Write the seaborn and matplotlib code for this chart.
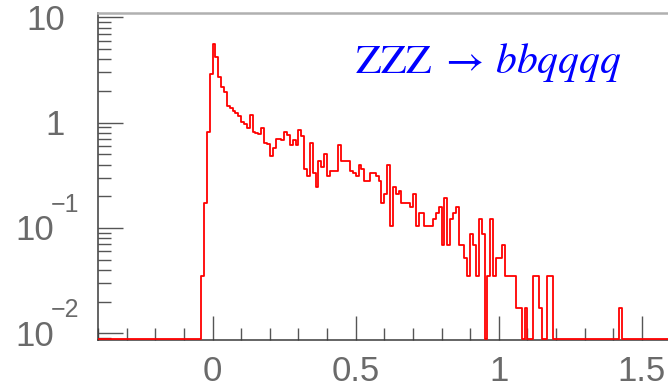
import numpy as np
import pandas as pd
import matplotlib
matplotlib.use("Agg")
import matplotlib.pyplot as plt
from matplotlib.ticker import (MultipleLocator, FixedLocator, LogLocator,
                               NullFormatter, FuncFormatter)
import seaborn as sns

# ---- binning -------------------------------------------------------------
bin_start = -0.40
bin_stop = 1.60
bin_width = 0.01
event_weight = 0.0174          # histogram entry per event

# events per 0.01 bin, starting with the bin at -0.04
first_filled_edge = -0.04
events = [
    2, 10, 47, 165, 318, 242, 157, 126, 113, 82,
    79, 74, 71, 67, 58, 56, 51, 68, 47, 46,
    45, 51, 37, 36, 28, 33, 40, 40, 39, 47,
    44, 35, 39, 35, 49, 43, 21, 18, 37, 19,
    14, 25, 22, 29, 18, 20, 20, 20, 35, 25,
    25, 25, 20, 19, 18, 23, 21, 16, 16, 19,
    19, 18, 16, 10, 12, 23, 6, 14, 12, 13,
    10, 10, 10, 9, 12, 6, 8, 8, 6, 6,
    6, 7, 8, 9, 4, 11, 4, 7, 8, 9,
    4, 4, 3, 2, 5, 4, 2, 7, 5, 0,
    2, 7, 2, 3, 3, 4, 2, 2, 2, 2,
    1, 1, 0, 1, 0, 0, 2, 2, 1, 0,
    0, 2, 2,
]
# isolated entries far in the tail
tail_x = [1.425]
tail_events = [1]

x_major_ticks = [0, 0.5, 1, 1.5]
y_major_ticks = [10, 1, 0.1, 0.01]
y_tick_base = ["10", "1", "10", "10"]
y_tick_exp = ["", "", "\u22121", "\u22122"]
title_text = r"$\mathrm{ZZZ}\;\rightarrow\,bbqqqq$"

# ---- histogram contents ----------------------------------------------------
edges = np.round(np.arange(bin_start, bin_stop + bin_width / 2, bin_width), 4)
centers = edges[:-1] + bin_width / 2
counts = np.zeros(len(centers))
i0 = int(round((first_filled_edge - bin_start) / bin_width))
counts[i0:i0 + len(events)] = events
for tx, tn in zip(tail_x, tail_events):
    counts[int((tx - bin_start) // bin_width)] += tn

y_lo, y_hi = 0.00863, 11.0
y_floor = y_lo * 1.022                           # empty bins drawn on the axis floor
heights = counts * event_weight
heights = np.where(heights > 0, heights, y_floor)
hist_df = pd.DataFrame({"x": centers, "w": heights})

# ---- style -----------------------------------------------------------------
sns.set_theme(style="white")
plt.rcParams["font.family"] = ["Liberation Sans", "DejaVu Sans"]
plt.rcParams["mathtext.fontset"] = "stix"

W, H = 668, 387
fig = plt.figure(figsize=(W / 100, H / 100), dpi=100)
ax = fig.add_axes([98 / W, 47 / H, (670.6 - 98) / W, 327 / H])

sns.histplot(data=hist_df, x="x", weights="w", bins=edges.tolist(),
             element="step", fill=False, color="#ff0000", linewidth=1.3,
             ax=ax)
for art in list(ax.lines) + list(ax.collections) + list(ax.patches):
    art.set_zorder(6)

ax.set_yscale("log")
ax.set_xlim(bin_start, bin_stop)
ax.set_ylim(y_lo, y_hi)
ax.set_xlabel("")
ax.set_ylabel("")

tick_col = "#555555"
lab_col = "#6a6a6a"

for side in ("left", "bottom"):
    ax.spines[side].set_color("#3a3a3a")
    ax.spines[side].set_linewidth(1.1)
ax.spines["top"].set_color("#b0b0b0")
ax.spines["top"].set_linewidth(1.8)
ax.spines["right"].set_color("#b0b0b0")

ax.xaxis.set_major_locator(FixedLocator(x_major_ticks))
ax.xaxis.set_minor_locator(MultipleLocator(0.1))
ax.xaxis.set_major_formatter(FuncFormatter(lambda v, _: f"{v:g}"))
ax.yaxis.set_major_locator(LogLocator(base=10, numticks=10))
ax.yaxis.set_minor_locator(LogLocator(base=10, subs=np.arange(2, 10), numticks=20))
ax.yaxis.set_major_formatter(NullFormatter())
ax.yaxis.set_minor_formatter(NullFormatter())

ax.tick_params(axis="both", which="both", direction="in", color=tick_col,
               width=1.0, top=False, right=False, left=True, bottom=True)
ax.tick_params(axis="x", which="major", length=17, pad=10.5,
               labelsize=25, labelcolor=lab_col)
ax.tick_params(axis="x", which="minor", length=8.6)
ax.tick_params(axis="y", which="major", length=18)
ax.tick_params(axis="y", which="minor", length=9)

# y labels in the "10 with raised exponent" style, centred on the tick
for val, base, exp in zip(y_major_ticks, y_tick_base, y_tick_exp):
    if exp:
        ax.annotate(base, xy=(0, val), xycoords=("axes fraction", "data"),
                    xytext=(-43.4, -12.5), textcoords="offset pixels",
                    ha="right", va="baseline", fontsize=25, color=lab_col,
                    annotation_clip=False)
        ax.annotate(exp, xy=(0, val), xycoords=("axes fraction", "data"),
                    xytext=(-47.5, 16), textcoords="offset pixels",
                    ha="left", va="baseline", fontsize=18, color=lab_col,
                    annotation_clip=False)
    else:
        dx = -52 if base == "10" else -42.7
        ax.annotate(base, xy=(0, val), xycoords=("axes fraction", "data"),
                    xytext=(dx, -12.5), textcoords="offset pixels",
                    ha="center", va="baseline", fontsize=25, color=lab_col,
                    annotation_clip=False)

fig.text(355 / W, 1 - 73 / H, title_text, color="#0000ff", fontsize=30,
         ha="left", va="baseline")

fig.savefig("out.png", dpi=100)
